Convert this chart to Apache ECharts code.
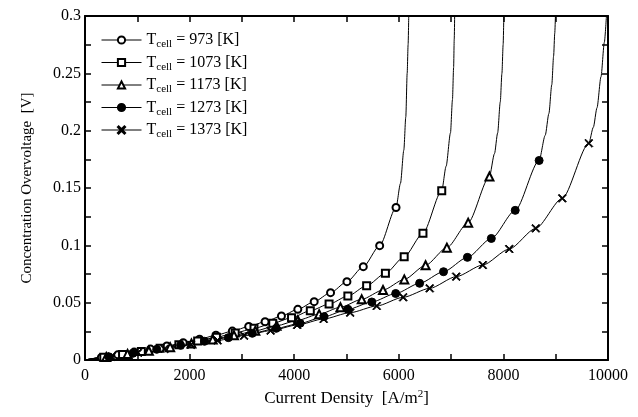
<!DOCTYPE html>
<html>
<head>
<meta charset="utf-8">
<script src="https://cdn.jsdelivr.net/npm/echarts@6/dist/echarts.min.js"></script>
<style>
	html, body { margin: 0; padding: 0; background: #fff; }
	#chart { width: 638px; height: 417px; }
</style>
</head>
<body>
<div id="chart"></div>
<script>
	// temperatures (legend names)
	var temps = ['973', '1073', '1173', '1273', '1373']

	// marker points
	var x973 = [313, 626, 939, 1252, 1565, 1878, 2191, 2504, 2817, 3130, 3443, 3756, 4069, 4382, 4695, 5008, 5321, 5634, 5947]
	var y973 = [0.0022, 0.0045, 0.0069, 0.0095, 0.0122, 0.0151, 0.0182, 0.0216, 0.0252, 0.0292, 0.0334, 0.0384, 0.0442, 0.0509, 0.0587, 0.0683, 0.0814, 0.0997, 0.133]
	var x1073 = [359, 718, 1077, 1436, 1795, 2154, 2513, 2872, 3231, 3590, 3949, 4308, 4667, 5026, 5385, 5744, 6103, 6462, 6821]
	var y1073 = [0.0024, 0.0048, 0.0075, 0.0103, 0.0133, 0.0165, 0.0199, 0.0236, 0.0276, 0.032, 0.0369, 0.043, 0.0488, 0.0558, 0.0648, 0.0756, 0.09, 0.1105, 0.1477]
	var x1173 = [407, 814, 1221, 1628, 2035, 2442, 2849, 3256, 3663, 4070, 4477, 4884, 5291, 5698, 6105, 6512, 6919, 7326, 7733]
	var y1173 = [0.0026, 0.0053, 0.0081, 0.0112, 0.0144, 0.0178, 0.0215, 0.0255, 0.0299, 0.0347, 0.04, 0.046, 0.0529, 0.061, 0.0703, 0.0826, 0.098, 0.1198, 0.16]
	var x1273 = [457, 914, 1371, 1828, 2285, 2742, 3199, 3656, 4113, 4570, 5027, 5484, 5941, 6398, 6855, 7312, 7769, 8226, 8683]
	var y1273 = [0.0028, 0.0058, 0.0093, 0.0128, 0.0163, 0.0195, 0.0233, 0.0276, 0.032, 0.0378, 0.0442, 0.0506, 0.058, 0.0669, 0.077, 0.0895, 0.106, 0.1305, 0.174]
	var x1373 = [507, 1014, 1521, 2028, 2535, 3042, 3549, 4056, 4563, 5070, 5577, 6084, 6591, 7098, 7605, 8112, 8619, 9126, 9633]
	var y1373 = [0.003, 0.0063, 0.0096, 0.0132, 0.0171, 0.0212, 0.0256, 0.0305, 0.0358, 0.0413, 0.0471, 0.0547, 0.0625, 0.0727, 0.0828, 0.0968, 0.1148, 0.141, 0.189]

	// steep part of each curve above the last marker (no markers)
	var tx973 = [6032, 6096, 6134, 6160, 6178, 6190]
	var ty973 = [0.154, 0.183, 0.212, 0.25, 0.275, 0.3]
	var tx1073 = [6905, 6988, 7026, 7048, 7060, 7068]
	var ty1073 = [0.169, 0.198, 0.227, 0.255, 0.28, 0.3]
	var tx1173 = [7830, 7890, 7940, 7972, 7995, 8008]
	var ty1173 = [0.18, 0.198, 0.225, 0.25, 0.275, 0.3]
	var tx1273 = [8800, 8870, 8925, 8960, 8982, 8995]
	var ty1273 = [0.196, 0.215, 0.24, 0.265, 0.285, 0.3]
	var tx1373 = [9720, 9790, 9866, 9930, 9970]
	var ty1373 = [0.203, 0.22, 0.247, 0.277, 0.3]

	var font = 'Liberation Serif'
	var cross = 'path://M0,1L1,0L5,4L9,0L10,1L6,5L10,9L9,10L5,6L1,10L0,9L4,5Z'

	function buildData(xs, ys, tx, ty) {
		var d = [{ value: [0, 0], symbol: 'none' }]
		for (var i = 0; i < xs.length; i++) {
			d.push([xs[i], ys[i]])
		}
		for (var j = 0; j < tx.length; j++) {
			d.push({ value: [tx[j], ty[j]], symbol: 'none' })
		}
		return d
	}

	function makeSeries(name, data, symbol, size) {
		return {
			name: name,
			type: 'line',
			data: data,
			smooth: 0.25,
			smoothMonotone: 'x',
			symbol: symbol,
			symbolSize: size,
			lineStyle: { color: '#000', width: 1 },
			itemStyle: { color: '#000', borderColor: '#000', borderWidth: 1 }
		}
	}

	var seriesList = [
		makeSeries(temps[0], buildData(x973, y973, tx973, ty973), 'emptyCircle', 7),
		makeSeries(temps[1], buildData(x1073, y1073, tx1073, ty1073), 'emptyRect', 7),
		makeSeries(temps[2], buildData(x1173, y1173, tx1173, ty1173), 'emptyTriangle', 8),
		makeSeries(temps[3], buildData(x1273, y1273, tx1273, ty1273), 'circle', 8),
		makeSeries(temps[4], buildData(x1373, y1373, tx1373, ty1373), cross, 8)
	]

	function axisBase(show) {
		return {
			type: 'value',
			axisLine: { show: true, onZero: false, lineStyle: { color: '#000', width: 2 } },
			axisTick: { show: true, inside: true, length: 6, lineStyle: { color: '#000', width: 1.5 } },
			minorTick: { show: true, splitNumber: 2, length: 6, lineStyle: { color: '#000', width: 1.5 } },
			splitLine: { show: false },
			axisLabel: { show: show, color: '#000', fontFamily: font, fontSize: 16 }
		}
	}

	var xMain = axisBase(true)
	xMain.min = 0; xMain.max = 10000; xMain.interval = 2000
	xMain.position = 'bottom'
	xMain.axisLabel.margin = 8
	xMain.axisLabel.formatter = function(v) { return String(v) }
	xMain.name = 'Current Density  [A/m{sup|2}]'
	xMain.nameLocation = 'middle'
	xMain.nameGap = 29
	xMain.nameTextStyle = {
		color: '#000', fontFamily: font, fontSize: 17, lineHeight: 20,
		rich: { sup: { fontFamily: font, fontSize: 11, verticalAlign: 'top', lineHeight: 20 } }
	}
	var xTop = axisBase(false)
	xTop.min = 0; xTop.max = 10000; xTop.interval = 2000
	xTop.position = 'top'

	var yMain = axisBase(true)
	yMain.min = 0; yMain.max = 0.3; yMain.interval = 0.05
	yMain.position = 'left'
	yMain.axisLabel.margin = 4
	yMain.name = 'Concentration Overvoltage  [V]'
	yMain.nameLocation = 'middle'
	yMain.nameRotate = 90
	yMain.nameGap = 50
	yMain.nameTextStyle = { color: '#000', fontFamily: font, fontSize: 15 }
	var yRight = axisBase(false)
	yRight.min = 0; yRight.max = 0.3; yRight.interval = 0.05
	yRight.position = 'right'

	var option = {
		animation: false,
		backgroundColor: '#fff',
		grid: { left: 85, right: 30, top: 16, bottom: 57, containLabel: false },
		legend: {
			data: temps,
			orient: 'vertical',
			left: 101,
			top: 30,
			padding: 0,
			itemWidth: 40,
			itemHeight: 9,
			itemGap: 2.5,
			lineStyle: { width: 1 },
			formatter: function(name) {
				return 'T{sub|cell} = ' + name + ' [K]'
			},
			textStyle: {
				color: '#000', fontFamily: font, fontSize: 16, lineHeight: 20,
				rich: { sub: { fontFamily: font, fontSize: 11, verticalAlign: 'bottom', lineHeight: 14 } }
			}
		},
		xAxis: [xMain, xTop],
		yAxis: [yMain, yRight],
		series: seriesList
	}

	var myChart = echarts.init(document.getElementById('chart'))
	myChart.setOption(option)
</script>
</body>
</html>
